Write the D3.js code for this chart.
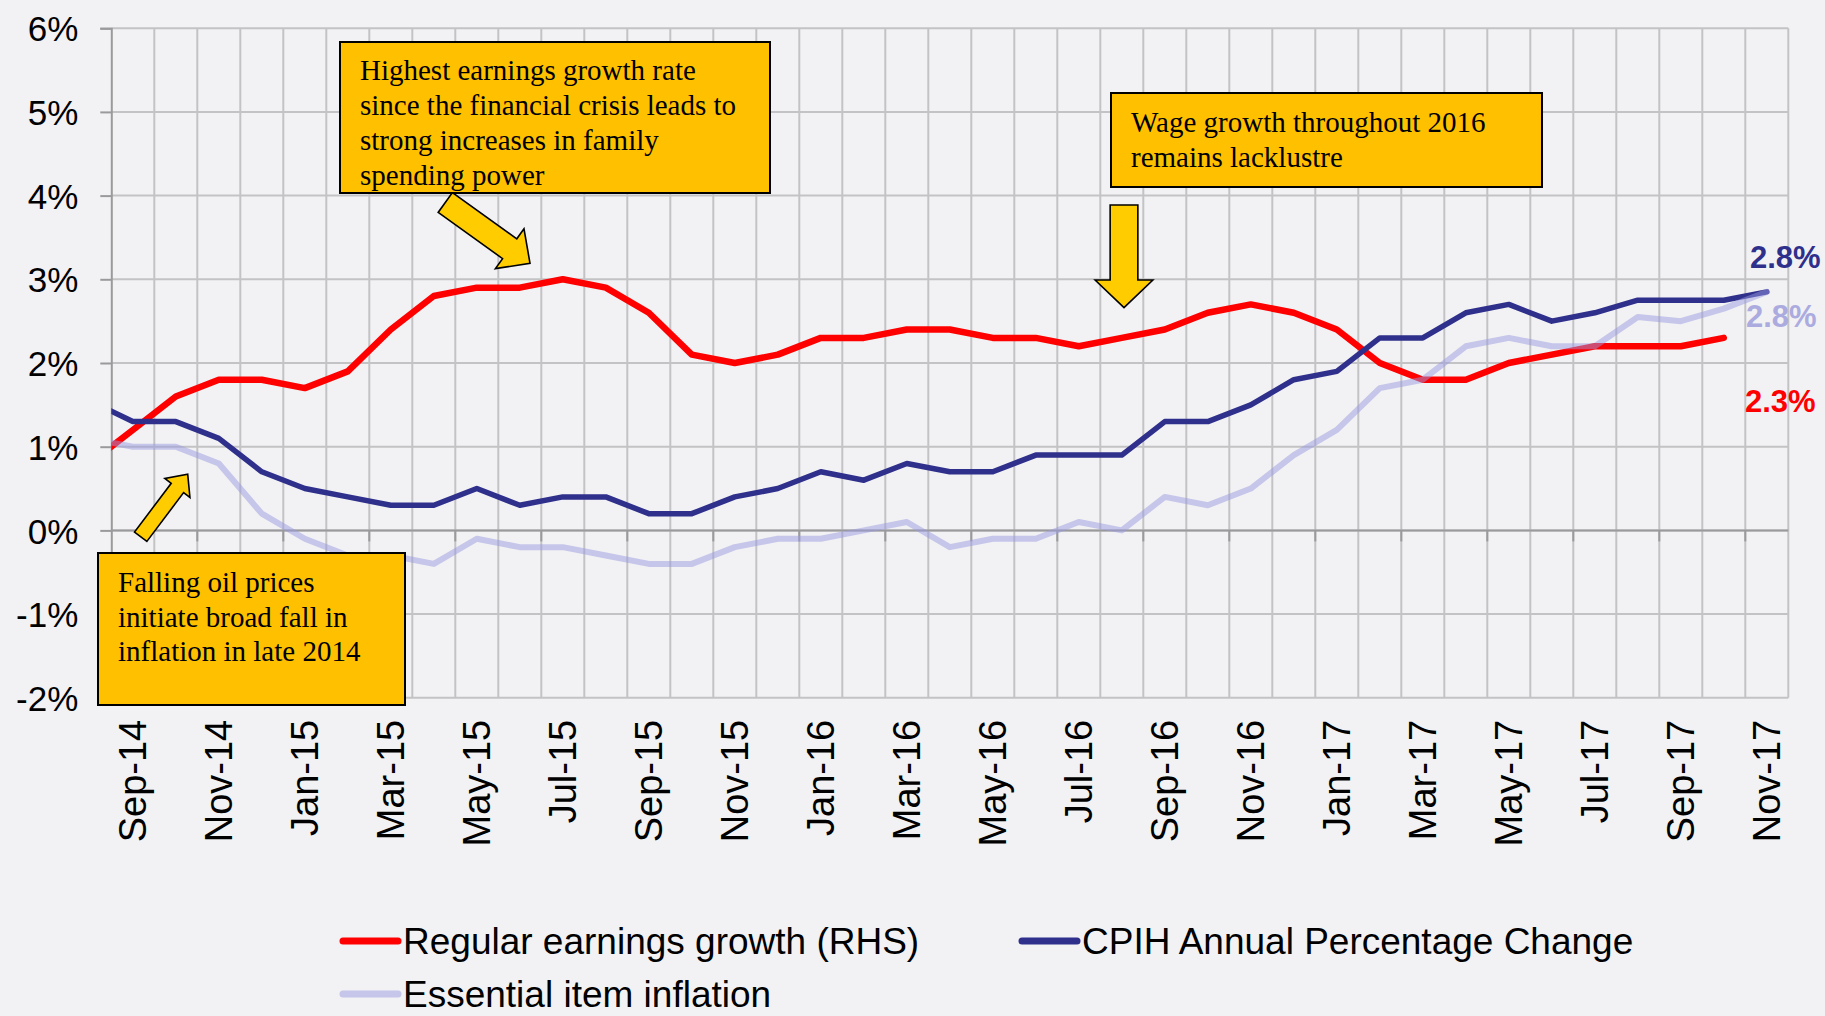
<!DOCTYPE html>
<html>
<head>
<meta charset="utf-8">
<script src="https://cdn.jsdelivr.net/npm/d3@7"></script>
<style>
  html, body { margin: 0; padding: 0; background: #f2f2f4; }
  svg { display: block; }
</style>
</head>
<body>
<svg id="chart" width="1825" height="1016"></svg>
<script>
// ---- data ----
const months = ["Aug-14","Sep-14","Oct-14","Nov-14","Dec-14","Jan-15","Feb-15","Mar-15","Apr-15","May-15","Jun-15","Jul-15","Aug-15","Sep-15","Oct-15","Nov-15","Dec-15","Jan-16","Feb-16","Mar-16","Apr-16","May-16","Jun-16","Jul-16","Aug-16","Sep-16","Oct-16","Nov-16","Dec-16","Jan-17","Feb-17","Mar-17","Apr-17","May-17","Jun-17","Jul-17","Aug-17","Sep-17","Oct-17","Nov-17"];
const visibleMonths = months.slice(1);
const tickLabels = ["Sep-14","Nov-14","Jan-15","Mar-15","May-15","Jul-15","Sep-15","Nov-15","Jan-16","Mar-16","May-16","Jul-16","Sep-16","Nov-16","Jan-17","Mar-17","May-17","Jul-17","Sep-17","Nov-17"];
const yTicks = [-2,-1,0,1,2,3,4,5,6];

const earnings = [0.8,1.2,1.6,1.8,1.8,1.7,1.9,2.4,2.8,2.9,2.9,3.0,2.9,2.6,2.1,2.0,2.1,2.3,2.3,2.4,2.4,2.3,2.3,2.2,2.3,2.4,2.6,2.7,2.6,2.4,2.0,1.8,1.8,2.0,2.1,2.2,2.2,2.2,2.3,null];
const cpih = [1.55,1.3,1.3,1.1,0.7,0.5,0.4,0.3,0.3,0.5,0.3,0.4,0.4,0.2,0.2,0.4,0.5,0.7,0.6,0.8,0.7,0.7,0.9,0.9,0.9,1.3,1.3,1.5,1.8,1.9,2.3,2.3,2.6,2.7,2.5,2.6,2.75,2.75,2.75,2.85];
const essential = [1.1,1.0,1.0,0.8,0.2,-0.1,-0.3,-0.3,-0.4,-0.1,-0.2,-0.2,-0.3,-0.4,-0.4,-0.2,-0.1,-0.1,0.0,0.1,-0.2,-0.1,-0.1,0.1,0.0,0.4,0.3,0.5,0.9,1.2,1.7,1.8,2.2,2.3,2.2,2.2,2.55,2.5,2.65,2.85];

const seriesNames = ["Regular earnings growth (RHS)","CPIH Annual Percentage Change","Essential item inflation"];
const endLabels = ["2.3%","2.8%","2.8%"];

// ---- layout ----
const svg = d3.select("#chart");
const W = 1825, H = 1016;
const plotLeft = 111.3, plotRight = 1788.3;
const nVis = visibleMonths.length;
const bw = (plotRight - plotLeft) / nVis;

const x = d3.scaleBand().domain(months).range([plotLeft - bw, plotRight]).padding(0);
const xc = m => x(m) + x.bandwidth() / 2;
const y = d3.scaleLinear().domain([-2, 6]).range([697.8, 28.2]);

const colors = { red: "#ff0000", blue: "#2f2f8c", light: "#9a9ae2" };
const gridColor = "#c3c3c5", axisColor = "#9a9a9c";

svg.append("rect").attr("width", W).attr("height", H).attr("fill", "#f2f2f4");

// gridlines
const grid = svg.append("g");
grid.selectAll("line.h").data(yTicks).join("line")
  .attr("x1", plotLeft).attr("x2", plotRight)
  .attr("y1", d => y(d)).attr("y2", d => y(d))
  .attr("stroke", gridColor).attr("stroke-width", 2);
grid.selectAll("line.v").data(visibleMonths.slice(1).concat(["__end"])).join("line")
  .attr("x1", d => d === "__end" ? plotRight : x(d))
  .attr("x2", d => d === "__end" ? plotRight : x(d))
  .attr("y1", y(6)).attr("y2", y(-2))
  .attr("stroke", gridColor).attr("stroke-width", 2);

// y axis
const yAxis = d3.axisLeft(y).tickValues(yTicks).tickSize(11).tickPadding(22).tickFormat(d => d + "%");
const gy = svg.append("g").attr("transform", `translate(${plotLeft},0)`).call(yAxis);
gy.select(".domain").attr("stroke", axisColor).attr("stroke-width", 2);
gy.selectAll(".tick line").attr("stroke", axisColor).attr("stroke-width", 2);
gy.selectAll(".tick text").attr("font-family", "Liberation Sans, Arial, sans-serif")
  .attr("font-size", 35).attr("fill", "#000").attr("dy", "0.36em");

// x axis at 0%
const gx = svg.append("g");
gx.append("line").attr("x1", plotLeft).attr("x2", plotRight).attr("y1", y(0)).attr("y2", y(0))
  .attr("stroke", axisColor).attr("stroke-width", 2);
const tickBounds = visibleMonths.filter((m, i) => i % 2 === 0 && i > 0);
gx.selectAll("line.t").data(tickBounds).join("line")
  .attr("x1", d => x(d)).attr("x2", d => x(d))
  .attr("y1", y(0)).attr("y2", y(0) + 11)
  .attr("stroke", axisColor).attr("stroke-width", 2);
gx.selectAll("text").data(tickLabels).join("text")
  .attr("transform", d => `translate(${xc(d)},${y(-2) + 22}) rotate(-90)`)
  .attr("text-anchor", "end").attr("dy", "0.35em")
  .attr("font-family", "Liberation Sans, Arial, sans-serif").attr("font-size", 38)
  .attr("fill", "#000").text(d => d);

// clip
svg.append("clipPath").attr("id", "plotclip").append("rect")
  .attr("x", plotLeft).attr("y", 0).attr("width", plotRight - plotLeft + 20).attr("height", H);

const lineGen = arr => d3.line()
  .defined((d, i) => arr[i] !== null)
  .x((d, i) => xc(months[i]))
  .y((d, i) => y(arr[i]))(arr);

const lines = svg.append("g").attr("clip-path", "url(#plotclip)")
  .attr("fill", "none").attr("stroke-linejoin", "round").attr("stroke-linecap", "round");
lines.append("path").attr("d", lineGen(earnings)).attr("stroke", colors.red).attr("stroke-width", 6.5);
lines.append("path").attr("d", lineGen(cpih)).attr("stroke", colors.blue).attr("stroke-width", 5.5);
lines.append("path").attr("d", lineGen(essential)).attr("stroke", colors.light).attr("stroke-width", 6)
  .attr("stroke-opacity", 0.5);

// end labels
const endG = svg.append("g").attr("font-family", "Liberation Sans, Arial, sans-serif")
  .attr("font-weight", "bold").attr("font-size", 31);
endG.append("text").attr("x", 1750).attr("y", 268).attr("fill", colors.blue).text(endLabels[1]);
endG.append("text").attr("x", 1746).attr("y", 327).attr("fill", "#ababdf").text(endLabels[2]);
endG.append("text").attr("x", 1745).attr("y", 412).attr("fill", colors.red).text(endLabels[0]);

// annotations
function arrowPoly(tail, tip, shaftW, headW, headL) {
  const dx = tip[0] - tail[0], dy = tip[1] - tail[1];
  const L = Math.hypot(dx, dy), ux = dx / L, uy = dy / L, px = -uy, py = ux;
  const b = [tip[0] - ux * headL, tip[1] - uy * headL];
  const s = shaftW / 2, h = headW / 2;
  return [
    [tail[0] + px * s, tail[1] + py * s],
    [b[0] + px * s, b[1] + py * s],
    [b[0] + px * h, b[1] + py * h],
    tip,
    [b[0] - px * h, b[1] - py * h],
    [b[0] - px * s, b[1] - py * s],
    [tail[0] - px * s, tail[1] - py * s]
  ].map(p => p.join(",")).join(" ");
}
const ann = svg.append("g");
const arrows = [
  { tail: [445.3, 202.5], tip: [530, 263.3], sw: 24.4, hw: 49, hl: 25 },
  { tail: [1124, 205], tip: [1124, 307.7], sw: 27.7, hw: 57.7, hl: 27.7 },
  { tail: [140.7, 536.7], tip: [187.7, 474.3], sw: 15.5, hw: 31.4, hl: 17.1 }
];
ann.selectAll("polygon").data(arrows).join("polygon")
  .attr("points", d => arrowPoly(d.tail, d.tip, d.sw, d.hw, d.hl))
  .attr("fill", "#ffcc00").attr("stroke", "#000").attr("stroke-width", 1.6)
  .attr("stroke-linejoin", "miter");

const boxes = [
  { x: 340, y: 42, w: 430, h: 151, tx: 360, ty: 80, lh: 35,
    lines: ["Highest earnings growth rate", "since the financial crisis leads to", "strong increases in family", "spending power"] },
  { x: 1111, y: 93, w: 431, h: 94, tx: 1131, ty: 132, lh: 34.5,
    lines: ["Wage growth throughout 2016", "remains lacklustre"] },
  { x: 98, y: 553, w: 307, h: 152, tx: 118, ty: 592, lh: 34.5,
    lines: ["Falling oil prices", "initiate broad fall in", "inflation in late 2014"] }
];
boxes.forEach(b => {
  const g = ann.append("g");
  g.append("rect").attr("x", b.x).attr("y", b.y).attr("width", b.w).attr("height", b.h)
    .attr("fill", "#ffc000").attr("stroke", "#000").attr("stroke-width", 2);
  g.selectAll("text").data(b.lines).join("text")
    .attr("x", b.tx).attr("y", (d, i) => b.ty + i * b.lh)
    .attr("font-family", "Liberation Serif, Times New Roman, serif").attr("font-size", 29)
    .attr("fill", "#000").text(d => d);
});

// legend
const legendItems = [
  { name: seriesNames[0], color: colors.red, op: 1, x: 343, y: 941 },
  { name: seriesNames[1], color: colors.blue, op: 1, x: 1022, y: 941 },
  { name: seriesNames[2], color: colors.light, op: 0.5, x: 343, y: 994 }
];
const lg = svg.append("g");
legendItems.forEach(it => {
  lg.append("line").attr("x1", it.x).attr("x2", it.x + 55).attr("y1", it.y).attr("y2", it.y)
    .attr("stroke", it.color).attr("stroke-opacity", it.op).attr("stroke-width", 7)
    .attr("stroke-linecap", "round");
  lg.append("text").attr("x", it.x + 60).attr("y", it.y).attr("dy", "0.34em")
    .attr("font-family", "Liberation Sans, Arial, sans-serif").attr("font-size", 37)
    .attr("fill", "#000").text(it.name);
});
</script>
</body>
</html>
